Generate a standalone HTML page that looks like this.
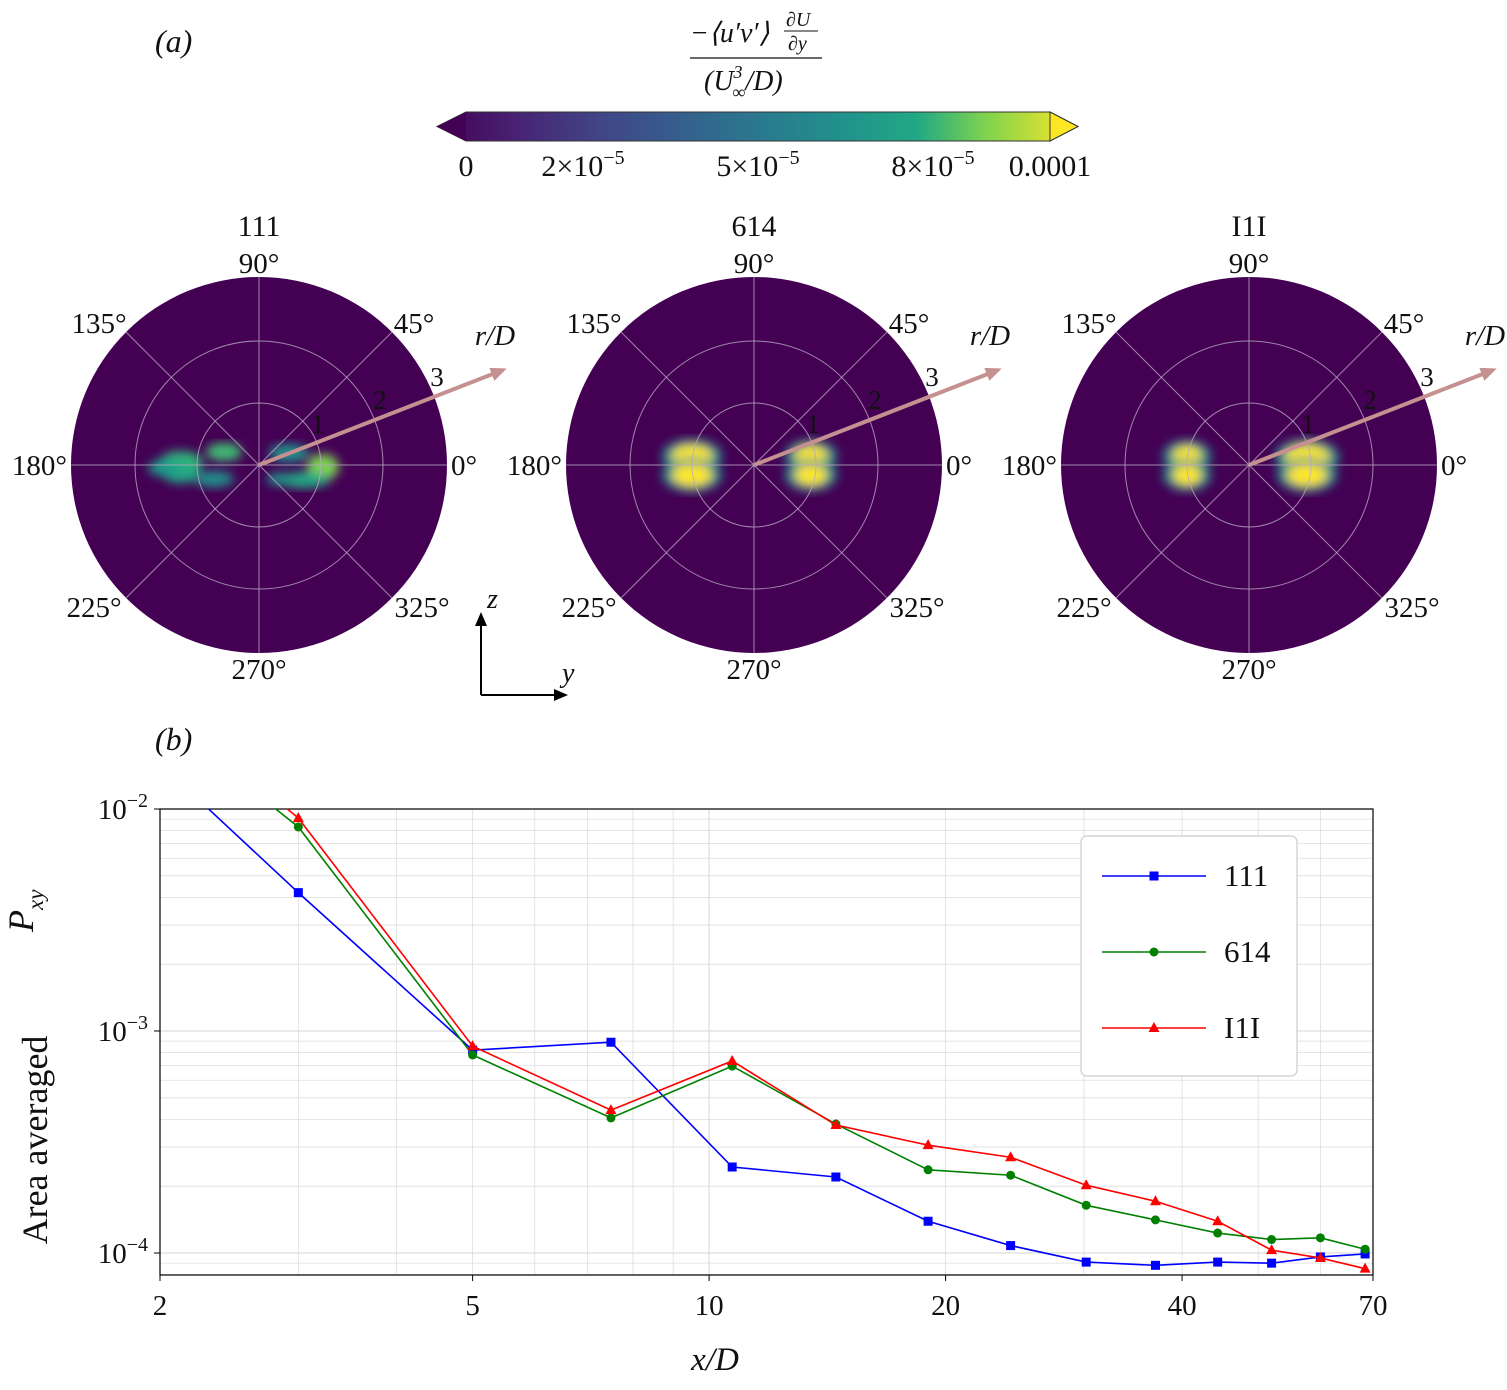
<!DOCTYPE html>
<html><head><meta charset="utf-8"><style>
body{margin:0;background:#fff;}
svg text{font-family:"Liberation Serif",serif;fill:#111;}
</style></head><body>
<svg width="1507" height="1385" viewBox="0 0 1507 1385" xmlns="http://www.w3.org/2000/svg">
<defs>
<linearGradient id="vir" x1="0" x2="1">
<stop offset="0" stop-color="#440154"/><stop offset="0.13" stop-color="#482475"/><stop offset="0.25" stop-color="#414487"/><stop offset="0.38" stop-color="#355f8d"/><stop offset="0.5" stop-color="#2a788e"/><stop offset="0.63" stop-color="#21918c"/><stop offset="0.75" stop-color="#22a884"/><stop offset="0.85" stop-color="#7ad151"/><stop offset="1" stop-color="#fde725"/>
</linearGradient>
<filter id="blur3"><feGaussianBlur stdDeviation="5"/></filter>
<marker id="arr" markerUnits="userSpaceOnUse" markerWidth="16" markerHeight="14" refX="12" refY="7" orient="auto"><path d="M0,0 L16,7 L0,14 z" fill="#c49090"/></marker>
<marker id="arrk" markerUnits="userSpaceOnUse" markerWidth="14" markerHeight="14" refX="10" refY="7" orient="auto"><path d="M0,1 L14,7 L0,13 z" fill="#000"/></marker>
<clipPath id="plotclip"><rect x="160" y="809" width="1213" height="466"/></clipPath>
</defs>

<text x="155" y="52" font-size="32" font-style="italic">(a)</text>
<g font-size="28">
<text x="690" y="42" font-style="italic">−⟨u′v′⟩</text>
<text x="786" y="26" font-size="20" font-style="italic">∂U</text>
<line x1="784" y1="31" x2="818" y2="31" stroke="#111" stroke-width="1"/>
<text x="788" y="50" font-size="20" font-style="italic">∂y</text>
<line x1="690" y1="58" x2="822" y2="58" stroke="#111" stroke-width="1.2"/>
<text x="704" y="90" font-style="italic">(U<tspan font-size="18" dy="-12">3</tspan><tspan font-size="18" dx="-10" dy="20">∞</tspan><tspan dy="-8">/D)</tspan></text>
</g>
<g>
<path d="M466,112 L1050,112 L1078,126.5 L1050,141 L466,141 L437,126.5 Z" fill="url(#vir)" stroke="#333" stroke-width="1"/>
<path d="M466,112 L437,126.5 L466,141 Z" fill="#440154"/>
<path d="M1050,112 L1078,126.5 L1050,141 Z" fill="#fde725" stroke="#333" stroke-width="1"/>
</g>
<g font-size="30">
<text x="466" y="176" text-anchor="middle">0</text>
<text x="583" y="176" text-anchor="middle">2×10<tspan font-size="20" dy="-12">−5</tspan></text>
<text x="758" y="176" text-anchor="middle">5×10<tspan font-size="20" dy="-12">−5</tspan></text>
<text x="933" y="176" text-anchor="middle">8×10<tspan font-size="20" dy="-12">−5</tspan></text>
<text x="1050" y="176" text-anchor="middle">0.0001</text>
</g>

<g id="polars"></g>

<g>
<line x1="481" y1="695" x2="481" y2="616" stroke="#000" stroke-width="2" marker-end="url(#arrk)"/>
<line x1="481" y1="695" x2="564" y2="695" stroke="#000" stroke-width="2" marker-end="url(#arrk)"/>
<text x="487" y="608" font-size="28" font-style="italic">z</text>
<text x="562" y="682" font-size="28" font-style="italic">y</text>
</g>

<text x="155" y="750" font-size="32" font-style="italic">(b)</text>
<g id="chart"></g>
</svg>
<script>
const NS='http://www.w3.org/2000/svg';
function mk(tag,attrs,parent){const e=document.createElementNS(NS,tag);for(const k in attrs)e.setAttribute(k,attrs[k]);parent.appendChild(e);return e;}

// ---------- polar panels ----------
const polarTitles=['111','614','I1I'];
const polarCenters=[259,754,1249];
const pg=document.getElementById('polars');
const R=188, CY=465;
const blobSets=[
 [[-78,-2,22,12,'#2fb47c'],[-78,10,18,8,'#22a884'],[-35,-13,18,9,'#3fbc73'],[-45,14,20,8,'#21918c'],[-95,3,16,8,'#1f9e89'],[30,-12,20,9,'#21918c'],[64,2,16,13,'#7ad151'],[45,15,26,8,'#22a884'],[20,14,12,6,'#1f9e89']],
 [[-62,-9,20,11,'#fde725'],[-62,10,20,11,'#fde725'],[57,-9,16,10,'#fde725'],[57,10,16,10,'#fde725']],
 [[-62,-9,14,10,'#fde725'],[-62,10,14,10,'#fde725'],[58,-8,22,12,'#fde725'],[58,10,20,11,'#fde725']]
];
polarCenters.forEach((cx,i)=>{
 const g=mk('g',{},pg);
 
 
 mk('circle',{cx:cx,cy:CY,r:R,fill:'#440154'},g);
 const bg=mk('g',{filter:'url(#blur3)'},g);
 blobSets[i].forEach(b=>{
   if(b[4]=='#fde725'){
     mk('ellipse',{cx:cx+b[0],cy:CY+b[1],rx:b[2]+10,ry:b[3]+6,fill:'#21918c'},bg);
   }
   mk('ellipse',{cx:cx+b[0],cy:CY+b[1],rx:b[2],ry:b[3],fill:b[4]},bg);
 });
 [62,124].forEach(r=>mk('circle',{cx:cx,cy:CY,r:r,fill:'none',stroke:'#b8a8c0','stroke-width':1,opacity:0.8},g));
 for(let a=0;a<180;a+=45){const t=a*Math.PI/180;mk('line',{x1:cx-R*Math.cos(t),y1:CY+R*Math.sin(t),x2:cx+R*Math.cos(t),y2:CY-R*Math.sin(t),stroke:'#b8a8c0','stroke-width':1,opacity:0.8},g);}
 const t=mk('text',{x:cx,y:236,'font-size':30,'text-anchor':'middle'},g);t.textContent=polarTitles[i];
 
 
 const labs=[['90°',0,-192,'middle'],['45°',155,-132,'middle'],['135°',-160,-132,'middle'],['0°',192,10,'start'],['180°',-192,10,'end'],['225°',-165,152,'middle'],['325°',163,152,'middle'],['270°',0,214,'middle']];
 labs.forEach(l=>{const e=mk('text',{x:cx+l[1],y:CY+l[2],'font-size':29,'text-anchor':l[3]},g);e.textContent=l[0];});
 [['1',59,-32],['2',121,-56],['3',178,-79]].forEach(l=>{const e=mk('text',{x:cx+l[1],y:CY+l[2],'font-size':27,'text-anchor':'middle'},g);e.textContent=l[0];});
 mk('line',{x1:cx,y1:CY,x2:cx+244,y2:CY-95,stroke:'#c49090','stroke-width':4,'marker-end':'url(#arr)'},g);
 const rd=mk('text',{x:cx+236,y:CY-120,'font-size':29,'font-style':'italic','text-anchor':'middle'},g);rd.textContent='r/D';
});

// ---------- line chart ----------
const xVals=[2,3,5,7.5,10.7,14.5,19,24.2,30.2,37,44.4,52,60,68.4];
const s111=[1.6e-2,4.2e-3,8.2e-4,8.9e-4,2.44e-4,2.2e-4,1.39e-4,1.08e-4,9.1e-5,8.8e-5,9.1e-5,9.0e-5,9.6e-5,9.9e-5];
const s614=[2.6e-2,8.3e-3,7.8e-4,4.06e-4,6.95e-4,3.81e-4,2.37e-4,2.24e-4,1.64e-4,1.41e-4,1.23e-4,1.15e-4,1.17e-4,1.04e-4];
const sI1I=[3.0e-2,9.1e-3,8.55e-4,4.4e-4,7.33e-4,3.77e-4,3.06e-4,2.7e-4,2.02e-4,1.71e-4,1.39e-4,1.03e-4,9.5e-5,8.5e-5];
const xTicks=[2,5,10,20,40,70];
const yTickExp=[-2,-3,-4];
const seriesNames=['111','614','I1I'];

const X0=160,X1=1373,Y0=809,Y1=1275;
const lx0=Math.log10(2),lx1=Math.log10(70);
const ly0=-2,ly1=-4.0991;
function xs(v){return X0+(Math.log10(v)-lx0)/(lx1-lx0)*(X1-X0);}
function ys(v){return Y0+(Math.log10(v)-ly0)/(ly1-ly0)*(Y1-Y0);}
const cg=document.getElementById('chart');
const grid=mk('g',{'clip-path':'url(#plotclip)'},cg);


for(let d=0;d<2;d++){for(let m=1;m<10;m++){const v=m*Math.pow(10,d);if(v<2||v>70)continue;const x=xs(v);mk('line',{x1:x,y1:Y0,x2:x,y2:Y1,stroke:'#ddd','stroke-width':m==1?1.2:0.8},grid);}}
for(let e=-5;e<=-2;e++){for(let m=1;m<10;m++){const v=m*Math.pow(10,e);const y=ys(v);if(y<Y0-0.5||y>Y1)continue;mk('line',{x1:X0,y1:y,x2:X1,y2:y,stroke:'#ddd','stroke-width':m==1?1.2:0.8},grid);}}
const frame=mk('rect',{x:X0,y:Y0,width:X1-X0,height:Y1-Y0,fill:'none',stroke:'#000','stroke-width':1.2},cg);


xTicks.forEach(v=>{const x=xs(v);mk('line',{x1:x,y1:Y1,x2:x,y2:Y1+6,stroke:'#000'},cg);const t=mk('text',{x:x,y:Y1+40,'font-size':29,'text-anchor':'middle'},cg);t.textContent=v;
 
 });
yTickExp.forEach(e=>{const y=ys(Math.pow(10,e));mk('line',{x1:X0-6,y1:y,x2:X0,y2:y,stroke:'#000'},cg);const t=mk('text',{x:X0-12,y:y+10,'font-size':29,'text-anchor':'end'},cg);t.innerHTML='10<tspan font-size="20" dy="-12">−'+(-e)+'</tspan>';
 
 });
const xl=mk('text',{x:715,y:1370,'font-size':33,'font-style':'italic','text-anchor':'middle'},cg);xl.textContent='x/D';


const yl=mk('text',{transform:'translate(47,1140) rotate(-90)','font-size':36,'text-anchor':'middle'},cg);yl.textContent='Area averaged';


const yp=mk('text',{transform:'translate(33,932) rotate(-90)','font-size':36,'font-style':'italic'},cg);yp.innerHTML='P<tspan font-size="23" dy="10">xy</tspan>';



const colors=['#0000ff','#008000','#ff0000'];
const data=[s111,s614,sI1I];
const lines=mk('g',{'clip-path':'url(#plotclip)'},cg);
function marker(k,x,y,p){
 if(k==0)return mk('rect',{x:x-4.5,y:y-4.5,width:9,height:9,fill:colors[k]},p);
 if(k==1)return mk('circle',{cx:x,cy:y,r:4.5,fill:colors[k]},p);
 return mk('path',{d:`M${x},${y-6} L${x+5.5},${y+4} L${x-5.5},${y+4} Z`,fill:colors[k]},p);
}
data.forEach((s,k)=>{
 const g=mk('g',{},lines);
 
 
 mk('polyline',{points:s.map((v,i)=>xs(xVals[i])+','+ys(v)).join(' '),fill:'none',stroke:colors[k],'stroke-width':1.6},g);
 s.forEach((v,i)=>marker(k,xs(xVals[i]),ys(v),g));
});
const lg=mk('g',{},cg);


mk('rect',{x:1081,y:836,width:216,height:240,rx:6,fill:'#fff',stroke:'#ccc','stroke-width':1.2},lg);
[876,952,1028].forEach((y,k)=>{
 const e=mk('g',{},lg);
 
 
 mk('line',{x1:1102,y1:y,x2:1206,y2:y,stroke:colors[k],'stroke-width':1.6},e);
 marker(k,1154,y,e);
 const t=mk('text',{x:1224,y:y+10,'font-size':31},e);t.textContent=seriesNames[k];
});
</script>
</body></html>
